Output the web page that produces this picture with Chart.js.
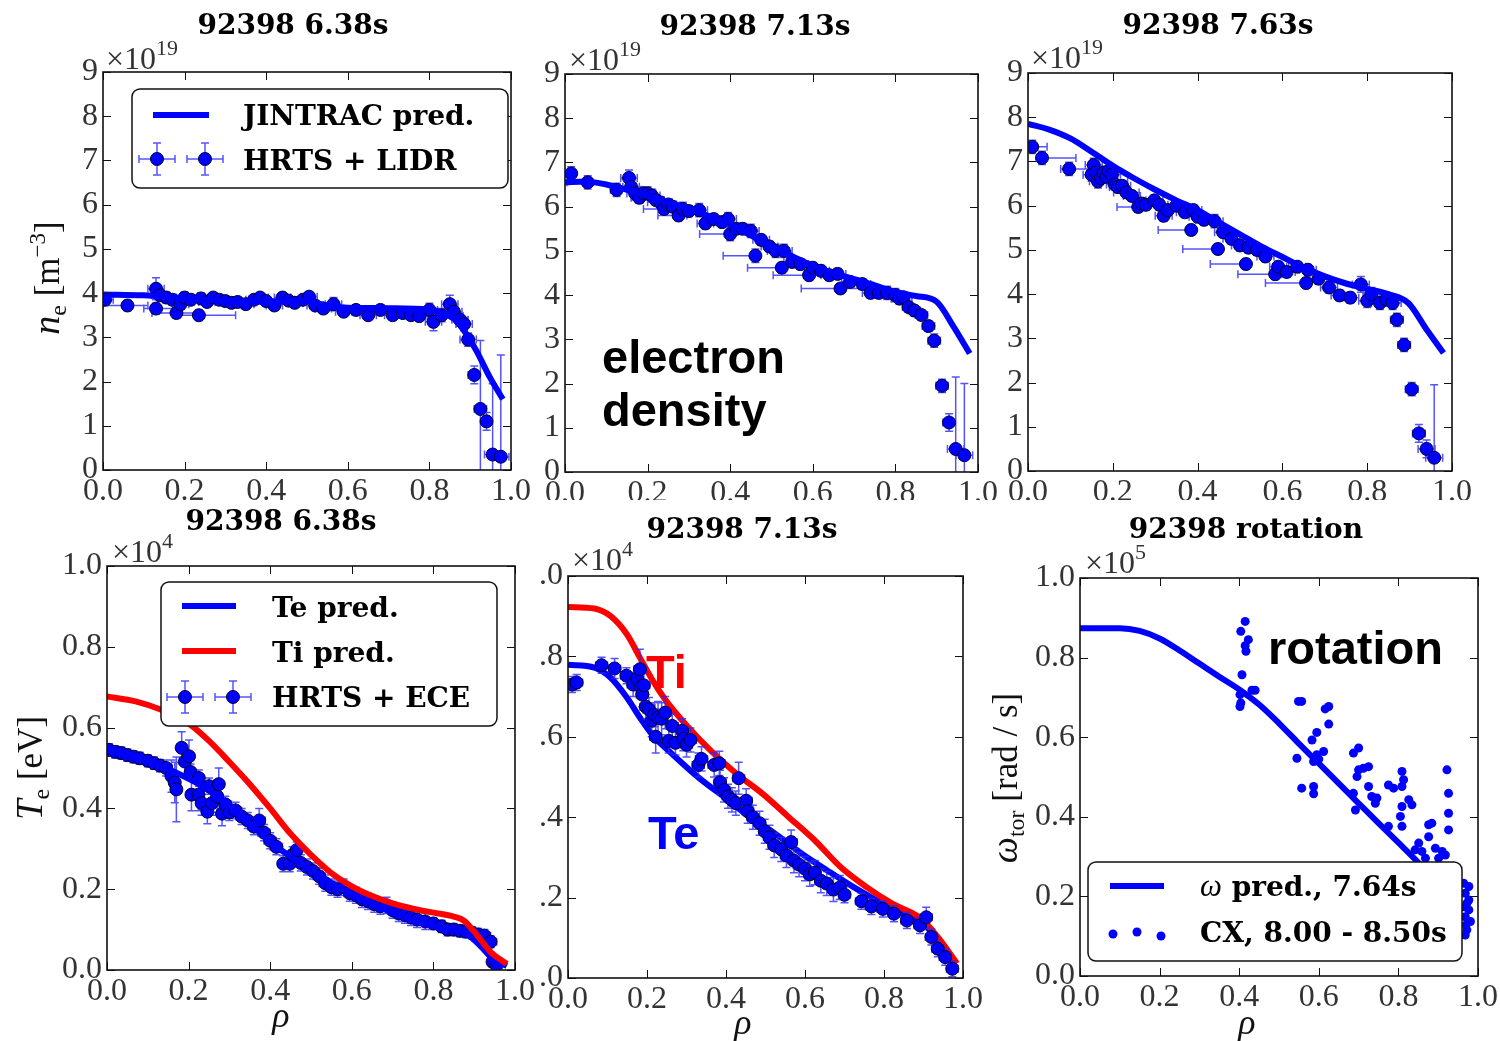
<!DOCTYPE html>
<html>
<head>
<meta charset="utf-8">
<script src="https://cdn.jsdelivr.net/npm/chart.js@4.4.0/dist/chart.umd.min.js"></script>
<style>
  body { margin: 0; background: #fff; width: 1500px; height: 1041px; overflow: hidden; }
  canvas { position: absolute; background: #fff; }
</style>
</head>
<body>
<script>
// rho ticks are made by the scale (step 0.2), y ticks per row below
// prediction curves: [rho, value]
const ne638Pred = [[0,3.97],[0.1,3.95],[0.15,3.92],[0.2,3.88],[0.3,3.83],[0.4,3.81],[0.5,3.82],[0.53,3.76],[0.56,3.7],[0.6,3.67],[0.7,3.66],[0.8,3.63],[0.83,3.56],[0.86,3.42],[0.885,3.15],[0.915,2.7],[0.948,2.1],[0.98,1.6]]
const ne713Pred = [[0,6.55],[0.05,6.57],[0.1,6.5],[0.15,6.38],[0.2,6.25],[0.25,6.1],[0.3,5.95],[0.35,5.78],[0.4,5.6],[0.45,5.35],[0.5,5.1],[0.55,4.88],[0.6,4.66],[0.65,4.5],[0.7,4.36],[0.75,4.22],[0.8,4.07],[0.85,3.98],[0.9,3.85],[0.94,3.3],[0.98,2.68]]
const ne763Pred = [[0,7.85],[0.05,7.72],[0.1,7.52],[0.15,7.22],[0.2,6.9],[0.25,6.62],[0.3,6.36],[0.35,6.12],[0.4,5.9],[0.45,5.62],[0.5,5.35],[0.55,5.08],[0.6,4.84],[0.65,4.6],[0.7,4.4],[0.75,4.24],[0.8,4.12],[0.85,4.0],[0.897,3.8],[0.94,3.2],[0.98,2.67]]
const te638Pred = [[0,0.546],[0.05,0.533],[0.108,0.516],[0.166,0.49],[0.232,0.456],[0.315,0.396],[0.398,0.319],[0.481,0.259],[0.564,0.207],[0.647,0.165],[0.73,0.13],[0.813,0.105],[0.871,0.096],[0.913,0.062],[0.946,0.027],[0.98,0.01]]
const ti638Pred = [[0,0.677],[0.07,0.665],[0.133,0.644],[0.2,0.61],[0.25,0.567],[0.3,0.515],[0.35,0.46],[0.4,0.4],[0.45,0.337],[0.5,0.285],[0.55,0.24],[0.6,0.207],[0.65,0.183],[0.7,0.165],[0.75,0.152],[0.8,0.142],[0.85,0.132],[0.875,0.122],[0.9,0.095],[0.94,0.045],[0.98,0.015]]
const te713Pred = [[0,0.779],[0.067,0.772],[0.108,0.747],[0.149,0.698],[0.182,0.648],[0.215,0.603],[0.264,0.557],[0.33,0.499],[0.395,0.45],[0.461,0.4],[0.526,0.358],[0.592,0.309],[0.657,0.267],[0.723,0.226],[0.789,0.189],[0.854,0.156],[0.895,0.139],[0.936,0.094],[0.977,0.036]]
const ti713Pred = [[0,0.923],[0.067,0.919],[0.108,0.9],[0.149,0.855],[0.182,0.797],[0.215,0.739],[0.248,0.69],[0.297,0.632],[0.362,0.565],[0.428,0.507],[0.493,0.458],[0.559,0.4],[0.625,0.342],[0.69,0.276],[0.756,0.226],[0.821,0.185],[0.895,0.147],[0.936,0.102],[0.985,0.036]]
const omegaPred = [[0,0.874],[0.1,0.874],[0.15,0.867],[0.2,0.848],[0.25,0.818],[0.3,0.785],[0.35,0.752],[0.4,0.72],[0.45,0.682],[0.5,0.635],[0.55,0.584],[0.6,0.534],[0.65,0.484],[0.7,0.434],[0.75,0.384],[0.8,0.335],[0.85,0.285],[0.9,0.23],[0.95,0.17]]

// measurements: [rho, value, rho err left, rho err right, value err]
const ne638Meas = [
  [0.005,3.85,0.02,0.02,0.12],[0.06,3.72,0.06,0.05,0.12],[0.13,4.1,0.02,0.02,0.25],[0.13,3.65,0.03,0.06,0.12],
  [0.14,3.95,0.02,0.02,0.12],[0.155,3.9,0.02,0.02,0.12],[0.17,3.85,0.02,0.02,0.12],[0.18,3.55,0.06,0.05,0.12],
  [0.19,3.75,0.02,0.02,0.12],[0.2,3.9,0.02,0.02,0.12],[0.215,3.85,0.02,0.02,0.12],[0.235,3.5,0.06,0.09,0.12],
  [0.24,3.88,0.02,0.02,0.12],[0.255,3.8,0.02,0.02,0.1],[0.27,3.9,0.02,0.02,0.1],[0.285,3.85,0.02,0.02,0.1],
  [0.3,3.82,0.02,0.02,0.1],[0.315,3.78,0.02,0.02,0.1],[0.33,3.8,0.02,0.02,0.1],[0.35,3.75,0.02,0.02,0.1],
  [0.37,3.85,0.02,0.02,0.1],[0.385,3.9,0.02,0.02,0.1],[0.4,3.82,0.02,0.02,0.1],[0.42,3.72,0.02,0.02,0.1],
  [0.44,3.9,0.02,0.02,0.1],[0.455,3.83,0.02,0.02,0.1],[0.47,3.78,0.02,0.02,0.1],[0.49,3.85,0.02,0.02,0.1],
  [0.505,3.92,0.02,0.02,0.1],[0.52,3.72,0.02,0.02,0.1],[0.54,3.65,0.02,0.02,0.1],[0.565,3.75,0.02,0.02,0.15],
  [0.59,3.58,0.02,0.02,0.1],[0.62,3.62,0.02,0.02,0.1],[0.65,3.5,0.02,0.02,0.1],[0.68,3.62,0.02,0.02,0.1],
  [0.71,3.5,0.02,0.02,0.1],[0.735,3.55,0.02,0.02,0.1],[0.755,3.5,0.02,0.02,0.1],[0.775,3.48,0.02,0.02,0.1],
  [0.8,3.62,0.02,0.02,0.15],[0.81,3.35,0.02,0.02,0.2],[0.83,3.5,0.02,0.02,0.15],[0.85,3.75,0.02,0.02,0.2],
  [0.86,3.58,0.02,0.02,0.15],[0.875,3.4,0.02,0.02,0.15],[0.885,3.3,0.02,0.02,0.15],[0.895,2.95,0.02,0.02,0.15],
  [0.91,2.15,0.015,0.015,0.2],[0.925,1.38,0.015,0.015,1.55],[0.94,1.1,0.015,0.015,0.2],[0.955,0.35,0.02,0.02,1.6],
  [0.975,0.3,0.02,0.02,2.3]
]
const ne713Meas = [
  [0.015,6.75,0.01,0.01,0.15],[0.055,6.55,0.05,0.012,0.15],[0.125,6.38,0.015,0.06,0.15],[0.155,6.65,0.02,0.02,0.18],
  [0.16,6.45,0.02,0.02,0.15],[0.17,6.3,0.02,0.02,0.15],[0.18,6.2,0.02,0.02,0.12],[0.19,6.3,0.02,0.02,0.15],
  [0.2,6.3,0.02,0.02,0.15],[0.21,6.25,0.02,0.02,0.15],[0.22,6.15,0.02,0.02,0.12],[0.23,6.1,0.03,0.03,0.12],
  [0.24,5.95,0.05,0.02,0.12],[0.25,6.05,0.02,0.02,0.12],[0.26,6.0,0.02,0.02,0.12],[0.275,5.8,0.05,0.02,0.12],
  [0.285,5.95,0.02,0.02,0.15],[0.3,5.9,0.02,0.02,0.12],[0.325,5.92,0.02,0.02,0.15],[0.34,5.62,0.02,0.02,0.12],
  [0.36,5.72,0.02,0.02,0.12],[0.38,5.65,0.02,0.02,0.12],[0.395,5.72,0.02,0.02,0.15],[0.4,5.38,0.074,0.006,0.15],
  [0.415,5.5,0.02,0.02,0.12],[0.43,5.5,0.02,0.02,0.12],[0.45,5.45,0.02,0.02,0.15],[0.461,4.89,0.078,0.007,0.15],
  [0.475,5.25,0.02,0.02,0.12],[0.495,5.1,0.02,0.02,0.12],[0.51,5.0,0.02,0.02,0.15],[0.525,4.62,0.083,0.007,0.12],
  [0.53,5.0,0.02,0.02,0.15],[0.55,4.75,0.02,0.02,0.12],[0.57,4.7,0.02,0.02,0.12],[0.591,4.45,0.087,0.005,0.12],
  [0.6,4.62,0.02,0.02,0.12],[0.62,4.55,0.02,0.02,0.12],[0.64,4.45,0.02,0.02,0.12],[0.66,4.48,0.02,0.02,0.12],
  [0.667,4.15,0.095,0.061,0.1],[0.69,4.3,0.02,0.02,0.12],[0.72,4.25,0.02,0.02,0.12],[0.74,4.05,0.02,0.02,0.12],
  [0.76,4.05,0.02,0.02,0.12],[0.78,4.05,0.02,0.02,0.15],[0.8,4.0,0.02,0.02,0.15],[0.81,3.92,0.02,0.02,0.12],
  [0.82,3.95,0.02,0.02,0.12],[0.832,3.73,0.015,0.015,0.12],[0.846,3.65,0.015,0.015,0.12],[0.863,3.55,0.015,0.015,0.12],
  [0.88,3.3,0.015,0.015,0.12],[0.894,2.97,0.015,0.015,0.15],[0.913,1.95,0.015,0.015,0.15],[0.93,1.12,0.015,0.015,0.2],
  [0.946,0.52,0.02,0.02,1.63],[0.967,0.38,0.02,0.02,1.62]
]
const ne763Meas = [
  [0.01,7.33,0.01,0.035,0.15],[0.033,7.08,0.01,0.08,0.15],[0.097,6.83,0.02,0.06,0.15],[0.15,6.7,0.02,0.02,0.15],
  [0.155,6.92,0.02,0.02,0.15],[0.16,6.75,0.02,0.02,0.15],[0.165,6.55,0.02,0.07,0.15],[0.172,6.62,0.02,0.02,0.12],
  [0.178,6.75,0.02,0.02,0.12],[0.185,6.65,0.02,0.02,0.12],[0.19,6.78,0.02,0.02,0.12],[0.198,6.7,0.02,0.02,0.12],
  [0.205,6.48,0.02,0.02,0.12],[0.212,6.42,0.02,0.02,0.12],[0.222,6.45,0.02,0.02,0.12],[0.232,6.3,0.03,0.03,0.12],
  [0.245,6.22,0.02,0.02,0.12],[0.26,5.97,0.05,0.02,0.12],[0.268,6.05,0.02,0.02,0.12],[0.278,6.02,0.02,0.02,0.12],
  [0.298,6.12,0.02,0.02,0.12],[0.31,6.02,0.02,0.02,0.12],[0.32,5.77,0.02,0.02,0.12],[0.33,5.9,0.02,0.02,0.12],
  [0.35,6.0,0.02,0.02,0.12],[0.37,5.85,0.02,0.02,0.12],[0.385,5.45,0.078,0.01,0.12],[0.39,5.9,0.02,0.02,0.12],
  [0.4,5.75,0.02,0.02,0.12],[0.415,5.68,0.02,0.02,0.12],[0.44,5.65,0.02,0.02,0.15],[0.448,5.02,0.083,0.004,0.12],
  [0.46,5.4,0.02,0.02,0.12],[0.48,5.25,0.02,0.02,0.12],[0.5,5.1,0.02,0.02,0.12],[0.514,4.68,0.084,0.006,0.12],
  [0.52,5.05,0.02,0.02,0.12],[0.54,5.0,0.02,0.02,0.12],[0.56,4.85,0.02,0.02,0.12],[0.583,4.45,0.088,0.014,0.12],
  [0.59,4.62,0.02,0.02,0.12],[0.61,4.5,0.02,0.02,0.12],[0.635,4.62,0.02,0.02,0.12],[0.656,4.25,0.096,0.004,0.12],
  [0.66,4.55,0.02,0.02,0.12],[0.685,4.35,0.02,0.02,0.12],[0.71,4.15,0.02,0.02,0.12],[0.735,3.97,0.02,0.02,0.12],
  [0.76,3.92,0.02,0.02,0.12],[0.785,4.22,0.02,0.02,0.18],[0.8,3.85,0.02,0.02,0.15],[0.81,4.0,0.02,0.02,0.15],
  [0.83,3.8,0.02,0.02,0.15],[0.845,3.88,0.02,0.02,0.15],[0.86,3.8,0.02,0.02,0.15],[0.87,3.42,0.015,0.015,0.15],
  [0.887,2.85,0.015,0.015,0.15],[0.905,1.85,0.015,0.015,0.15],[0.922,0.85,0.015,0.015,0.2],[0.94,0.5,0.02,0.02,0.2],
  [0.958,0.3,0.02,0.02,1.65]
]
const te638Meas = [
  [0.005,0.545,0.012,0.012,0.015],[0.02,0.54,0.012,0.012,0.015],[0.035,0.537,0.012,0.012,0.015],[0.05,0.532,0.012,0.012,0.015],
  [0.065,0.528,0.012,0.012,0.015],[0.08,0.524,0.015,0.015,0.015],[0.1,0.518,0.015,0.015,0.015],[0.115,0.512,0.015,0.015,0.015],
  [0.13,0.506,0.015,0.015,0.015],[0.145,0.5,0.015,0.015,0.02],[0.158,0.48,0.01,0.01,0.04],[0.166,0.464,0.01,0.01,0.05],
  [0.17,0.447,0.01,0.01,0.08],[0.183,0.55,0.012,0.012,0.04],[0.191,0.516,0.012,0.012,0.03],[0.201,0.529,0.012,0.012,0.04],
  [0.205,0.49,0.012,0.012,0.02],[0.207,0.434,0.012,0.012,0.04],[0.224,0.434,0.012,0.012,0.04],[0.225,0.475,0.012,0.012,0.02],
  [0.232,0.413,0.012,0.012,0.03],[0.246,0.392,0.012,0.012,0.03],[0.25,0.455,0.012,0.012,0.02],[0.257,0.413,0.012,0.012,0.03],
  [0.27,0.43,0.012,0.012,0.04],[0.274,0.46,0.012,0.012,0.04],[0.282,0.387,0.012,0.012,0.03],[0.29,0.41,0.015,0.015,0.02],
  [0.3,0.39,0.015,0.015,0.02],[0.315,0.395,0.015,0.015,0.02],[0.33,0.38,0.015,0.015,0.02],[0.345,0.37,0.015,0.015,0.02],
  [0.36,0.355,0.015,0.015,0.02],[0.373,0.37,0.015,0.015,0.03],[0.385,0.34,0.015,0.015,0.02],[0.4,0.32,0.015,0.015,0.02],
  [0.415,0.305,0.015,0.015,0.02],[0.432,0.263,0.012,0.012,0.02],[0.448,0.263,0.012,0.012,0.02],[0.455,0.285,0.015,0.015,0.02],
  [0.465,0.297,0.012,0.012,0.02],[0.475,0.265,0.015,0.015,0.02],[0.49,0.255,0.015,0.015,0.02],[0.505,0.245,0.015,0.015,0.02],
  [0.52,0.232,0.015,0.015,0.02],[0.535,0.215,0.015,0.015,0.02],[0.55,0.205,0.015,0.015,0.02],[0.565,0.2,0.015,0.015,0.02],
  [0.58,0.205,0.015,0.015,0.02],[0.595,0.19,0.015,0.015,0.02],[0.61,0.185,0.015,0.015,0.02],[0.625,0.175,0.015,0.015,0.02],
  [0.64,0.17,0.015,0.015,0.02],[0.655,0.163,0.015,0.015,0.02],[0.67,0.158,0.015,0.015,0.02],[0.685,0.16,0.015,0.015,0.02],
  [0.7,0.148,0.015,0.015,0.02],[0.715,0.14,0.015,0.015,0.02],[0.73,0.136,0.015,0.015,0.02],[0.745,0.13,0.015,0.015,0.02],
  [0.76,0.125,0.015,0.015,0.02],[0.78,0.12,0.015,0.015,0.02],[0.8,0.115,0.015,0.015,0.015],[0.82,0.108,0.015,0.015,0.015],
  [0.835,0.1,0.015,0.015,0.015],[0.85,0.1,0.015,0.015,0.015],[0.865,0.097,0.015,0.015,0.015],[0.88,0.095,0.015,0.015,0.015],
  [0.895,0.092,0.015,0.015,0.015],[0.91,0.088,0.015,0.015,0.015],[0.925,0.085,0.015,0.015,0.015],[0.94,0.07,0.015,0.015,0.015],
  [0.945,0.02,0.01,0.01,0.01],[0.955,0.012,0.01,0.01,0.01]
]
const te713Meas = [
  [0.01,0.73,0.015,0.015,0.02],[0.022,0.735,0.015,0.015,0.02],[0.085,0.778,0.015,0.015,0.02],[0.118,0.77,0.015,0.015,0.025],
  [0.148,0.752,0.015,0.015,0.02],[0.165,0.73,0.015,0.015,0.03],[0.175,0.745,0.015,0.015,0.03],[0.182,0.768,0.015,0.015,0.05],
  [0.185,0.725,0.015,0.015,0.03],[0.188,0.705,0.015,0.015,0.03],[0.192,0.728,0.015,0.015,0.03],[0.197,0.675,0.015,0.015,0.03],
  [0.205,0.668,0.015,0.015,0.03],[0.212,0.64,0.015,0.015,0.04],[0.218,0.655,0.015,0.015,0.03],[0.222,0.6,0.015,0.015,0.04],
  [0.228,0.648,0.015,0.015,0.04],[0.237,0.645,0.015,0.015,0.04],[0.246,0.66,0.015,0.015,0.04],[0.255,0.59,0.015,0.015,0.03],
  [0.264,0.627,0.015,0.015,0.03],[0.272,0.585,0.015,0.015,0.03],[0.289,0.615,0.015,0.015,0.03],[0.292,0.595,0.015,0.015,0.03],
  [0.3,0.58,0.015,0.015,0.03],[0.31,0.592,0.015,0.015,0.03],[0.33,0.53,0.015,0.015,0.03],[0.338,0.545,0.015,0.015,0.03],
  [0.37,0.53,0.015,0.015,0.03],[0.383,0.534,0.015,0.015,0.03],[0.385,0.487,0.015,0.015,0.03],[0.395,0.468,0.015,0.015,0.03],
  [0.405,0.452,0.015,0.015,0.03],[0.415,0.443,0.015,0.015,0.03],[0.425,0.435,0.015,0.015,0.03],[0.432,0.497,0.015,0.015,0.04],
  [0.451,0.441,0.015,0.015,0.03],[0.455,0.415,0.015,0.015,0.03],[0.468,0.4,0.015,0.015,0.03],[0.485,0.385,0.015,0.015,0.03],
  [0.498,0.365,0.015,0.015,0.03],[0.51,0.35,0.015,0.015,0.03],[0.522,0.33,0.015,0.015,0.03],[0.54,0.32,0.015,0.015,0.03],
  [0.553,0.305,0.015,0.015,0.03],[0.565,0.338,0.015,0.015,0.03],[0.572,0.292,0.015,0.015,0.03],[0.585,0.282,0.015,0.015,0.03],
  [0.6,0.272,0.015,0.015,0.03],[0.612,0.258,0.015,0.015,0.03],[0.625,0.262,0.015,0.015,0.03],[0.64,0.242,0.015,0.015,0.03],
  [0.655,0.235,0.015,0.015,0.03],[0.672,0.22,0.015,0.015,0.03],[0.688,0.225,0.015,0.015,0.03],[0.7,0.207,0.015,0.015,0.02],
  [0.743,0.191,0.015,0.015,0.02],[0.768,0.178,0.015,0.015,0.02],[0.797,0.172,0.015,0.015,0.02],[0.825,0.16,0.015,0.015,0.02],
  [0.858,0.143,0.015,0.015,0.02],[0.891,0.131,0.015,0.015,0.02],[0.907,0.151,0.015,0.015,0.025],[0.92,0.102,0.015,0.015,0.02],
  [0.936,0.073,0.015,0.015,0.02],[0.955,0.052,0.015,0.015,0.02],[0.973,0.023,0.015,0.015,0.02]
]
// charge exchange rotation points: [rho, omega]
const cxMeas = [
  [0.404,0.866],[0.415,0.891],[0.423,0.845],[0.415,0.83],[0.417,0.816],[0.407,0.757],[0.402,0.707],[0.404,0.686],[0.402,0.677],[0.432,0.718],[0.44,0.718],
  [0.549,0.69],[0.557,0.69],[0.545,0.547],[0.557,0.472],[0.587,0.476],[0.587,0.458],[0.583,0.593],[0.595,0.612],[0.587,0.539],[0.595,0.556],[0.6,0.545],[0.612,0.564],[0.616,0.671],[0.625,0.677],[0.625,0.633],
  [0.687,0.56],[0.7,0.573],[0.696,0.501],[0.7,0.518],[0.712,0.522],[0.725,0.526],[0.692,0.417],[0.687,0.459],[0.725,0.476],[0.733,0.451],[0.742,0.434],[0.746,0.447],
  [0.775,0.48],[0.788,0.472],[0.775,0.376],[0.809,0.514],[0.813,0.493],[0.809,0.476],[0.809,0.426],[0.805,0.401],[0.809,0.376],[0.826,0.443],[0.834,0.43],
  [0.922,0.518],[0.926,0.459],[0.926,0.409],[0.926,0.367],[0.876,0.38],[0.884,0.384],[0.876,0.35],[0.851,0.334],[0.842,0.317],[0.859,0.313],[0.893,0.321],[0.91,0.313],[0.918,0.304],[0.868,0.296],[0.901,0.296],
  [0.964,0.233],[0.968,0.208],[0.972,0.183],[0.977,0.166],[0.968,0.149],[0.981,0.137],[0.972,0.116],[0.968,0.103],[0.977,0.191],[0.964,0.174],[0.977,0.225],[0.97,0.128]
]

const SERIF = '"Liberation Serif", serif'
const TITLE_FONT = 'bold 28px "DejaVu Serif", serif'
const LEGEND_FONT = 'bold 28px "DejaVu Serif", serif'
const NOTE_FONT = 'bold 47px "Liberation Sans", sans-serif'
const TICK_COLOR = '#333'
const ERR_COLOR = 'rgba(40,40,255,0.8)'
const BLUE = '#0000ff'
const RED = '#ff0000'

const decorators = {}

// draw a row of text pieces (text, font, vertical shift)
function runs(ctx, parts, x, y, align) {
  let w = 0
  parts.forEach(p => { ctx.font = p[1]; w += ctx.measureText(p[0]).width })
  let px = align === 'center' ? x - w / 2 : x
  ctx.textAlign = 'left'
  ctx.textBaseline = 'alphabetic'
  parts.forEach(p => {
    ctx.font = p[1]
    ctx.fillText(p[0], px, y + (p[2] || 0))
    px += ctx.measureText(p[0]).width
  })
}

function vertical(ctx, x, y, parts) {
  ctx.save()
  ctx.translate(x, y)
  ctx.rotate(-Math.PI / 2)
  runs(ctx, parts, 0, 0, 'center')
  ctx.restore()
}

function title(ctx, text, x, y) {
  ctx.fillStyle = '#000'
  ctx.font = TITLE_FONT
  ctx.textAlign = 'center'
  ctx.textBaseline = 'alphabetic'
  ctx.fillText(text, x, y)
}

function expo(ctx, x, y, e) {
  ctx.fillStyle = TICK_COLOR
  runs(ctx, [['×10', '32px ' + SERIF, 0], [e, '22px ' + SERIF, -14]], x, y, 'left')
}

function rhoLabel(ctx, x, y) {
  ctx.fillStyle = '#111'
  runs(ctx, [['ρ', 'italic 36px ' + SERIF, 0]], x, y, 'center')
}

function note(ctx, text, x, y, color) {
  ctx.fillStyle = color
  ctx.font = NOTE_FONT
  ctx.textAlign = 'left'
  ctx.textBaseline = 'alphabetic'
  ctx.fillText(text, x, y)
}

function legendBox(ctx, x, y, w, h) {
  ctx.beginPath()
  ctx.roundRect(x, y, w, h, 8)
  ctx.fillStyle = '#fff'
  ctx.fill()
  ctx.strokeStyle = '#111'
  ctx.lineWidth = 1.5
  ctx.stroke()
}

function legendLine(ctx, x0, x1, y, color) {
  ctx.beginPath()
  ctx.moveTo(x0, y)
  ctx.lineTo(x1, y)
  ctx.strokeStyle = color
  ctx.lineWidth = 6
  ctx.stroke()
}

function legendText(ctx, parts, x, y) {
  ctx.fillStyle = '#000'
  runs(ctx, parts, x, y, 'left')
}

function dot(ctx, x, y, r, edge) {
  ctx.beginPath()
  ctx.arc(x, y, r, 0, Math.PI * 2)
  ctx.fillStyle = BLUE
  ctx.fill()
  if (edge) {
    ctx.strokeStyle = '#000033'
    ctx.lineWidth = 1
    ctx.stroke()
  }
}

function errMarker(ctx, x, y) {
  ctx.beginPath()
  ctx.moveTo(x - 18, y); ctx.lineTo(x + 18, y)
  ctx.moveTo(x - 18, y - 4); ctx.lineTo(x - 18, y + 4)
  ctx.moveTo(x + 18, y - 4); ctx.lineTo(x + 18, y + 4)
  ctx.moveTo(x, y - 16); ctx.lineTo(x, y + 16)
  ctx.moveTo(x - 4, y - 16); ctx.lineTo(x + 4, y - 16)
  ctx.moveTo(x - 4, y + 16); ctx.lineTo(x + 4, y + 16)
  ctx.strokeStyle = ERR_COLOR
  ctx.lineWidth = 1.5
  ctx.stroke()
  dot(ctx, x, y, 6.5, true)
}

// error bars under each measured dataset
const errorBars = {
  id: 'errorBars',
  beforeDatasetDraw(chart, args) {
    const ds = chart.data.datasets[args.index]
    if (!ds.errors) return
    const { ctx, chartArea: a, scales: { x, y } } = chart
    ctx.save()
    ctx.beginPath()
    ctx.rect(a.left, a.top, a.right - a.left, a.bottom - a.top)
    ctx.clip()
    ctx.strokeStyle = ERR_COLOR
    ctx.lineWidth = 1.5
    ctx.beginPath()
    ds.errors.forEach(r => {
      const px = x.getPixelForValue(r[0])
      const py = y.getPixelForValue(r[1])
      const x0 = x.getPixelForValue(r[0] - r[2])
      const x1 = x.getPixelForValue(r[0] + r[3])
      const y0 = y.getPixelForValue(r[1] - r[4])
      const y1 = y.getPixelForValue(r[1] + r[4])
      ctx.moveTo(x0, py); ctx.lineTo(x1, py)
      ctx.moveTo(x0, py - 4); ctx.lineTo(x0, py + 4)
      ctx.moveTo(x1, py - 4); ctx.lineTo(x1, py + 4)
      ctx.moveTo(px, y0); ctx.lineTo(px, y1)
      ctx.moveTo(px - 4, y0); ctx.lineTo(px + 4, y0)
      ctx.moveTo(px - 4, y1); ctx.lineTo(px + 4, y1)
    })
    ctx.stroke()
    ctx.restore()
  }
}

// box with inward ticks on all four sides
const frame = {
  id: 'frame',
  afterDatasetsDraw(chart) {
    const { ctx, chartArea: a, scales: { x, y } } = chart
    ctx.save()
    ctx.strokeStyle = '#111'
    ctx.lineWidth = 1
    ctx.beginPath()
    x.ticks.forEach(t => {
      const px = Math.round(x.getPixelForValue(t.value)) + 0.5
      ctx.moveTo(px, a.bottom); ctx.lineTo(px, a.bottom - 8)
      ctx.moveTo(px, a.top); ctx.lineTo(px, a.top + 8)
    })
    y.ticks.forEach(t => {
      const py = Math.round(y.getPixelForValue(t.value)) + 0.5
      ctx.moveTo(a.left, py); ctx.lineTo(a.left + 8, py)
      ctx.moveTo(a.right, py); ctx.lineTo(a.right - 8, py)
    })
    ctx.stroke()
    ctx.lineWidth = 1.6
    ctx.strokeRect(a.left, a.top, a.right - a.left, a.bottom - a.top)
    ctx.restore()
  }
}

const decor = {
  id: 'decor',
  afterDraw(chart) {
    const d = decorators[chart.canvas.id]
    if (!d) return
    const ctx = chart.ctx
    ctx.save()
    ctx.translate(-d.cx, -d.cy)
    d.decorate(ctx)
    ctx.restore()
  }
}

function predLine(rows, color, order) {
  return {
    type: 'line',
    data: rows.map(r => ({ x: r[0], y: r[1] })),
    borderColor: color,
    borderWidth: 6,
    pointRadius: 0,
    fill: false,
    cubicInterpolationMode: 'monotone',
    borderJoinStyle: 'round',
    order: order,
    clip: 0
  }
}

function measured(rows, order) {
  return {
    type: 'scatter',
    data: rows.map(r => ({ x: r[0], y: r[1] })),
    errors: rows,
    pointRadius: 6.5,
    pointBackgroundColor: BLUE,
    pointBorderColor: '#000033',
    pointBorderWidth: 1,
    order: order,
    clip: 0
  }
}

function cxDots(rows, order) {
  return {
    type: 'scatter',
    data: rows.map(r => ({ x: r[0], y: r[1] })),
    pointRadius: 4.5,
    pointBackgroundColor: BLUE,
    pointBorderWidth: 0,
    order: order,
    clip: 0
  }
}

const topAxis = { max: 9, step: 1, digits: 0 }
const lowAxis = { max: 1, step: 0.2, digits: 1 }

function makePanel(id, box, area, yAxis, datasets, decorate) {
  const [cx, cy, cw, ch] = box
  const [L, T, R, B] = area
  const canvas = document.createElement('canvas')
  canvas.id = id
  canvas.width = cw
  canvas.height = ch
  canvas.style.left = cx + 'px'
  canvas.style.top = cy + 'px'
  document.body.appendChild(canvas)
  decorators[id] = { cx, cy, decorate }
  const tickFont = { family: 'Liberation Serif', size: 32 }
  return new Chart(canvas, {
    type: 'scatter',
    data: { datasets },
    options: {
      responsive: false,
      animation: false,
      devicePixelRatio: 1,
      events: [],
      layout: { autoPadding: false, padding: { left: 0, top: T - cy, right: cx + cw - R, bottom: 0 } },
      plugins: { legend: { display: false }, tooltip: { enabled: false } },
      scales: {
        x: {
          type: 'linear', min: 0, max: 1,
          grid: { display: false, drawTicks: false },
          border: { display: false },
          ticks: { stepSize: 0.2, autoSkip: false, maxRotation: 0, padding: 2, font: tickFont, color: TICK_COLOR, callback: v => v.toFixed(1) },
          afterFit: s => { s.height = cy + ch - B }
        },
        y: {
          type: 'linear', min: 0, max: yAxis.max,
          grid: { display: false, drawTicks: false },
          border: { display: false },
          ticks: { stepSize: yAxis.step, autoSkip: false, padding: 5, font: tickFont, color: TICK_COLOR, callback: v => v.toFixed(yAxis.digits) },
          afterFit: s => { s.width = L - cx }
        }
      }
    },
    plugins: [errorBars, frame, decor]
  })
}

// top row: electron density
makePanel('ne638', [0, 0, 533, 500], [103, 72, 526, 470], topAxis,
  [predLine(ne638Pred, BLUE, 0), measured(ne638Meas, 1)],
  ctx => {
    title(ctx, '92398 6.38s', 293, 34)
    expo(ctx, 106, 69, '19')
    ctx.fillStyle = '#111'
    vertical(ctx, 59, 278, [['n', 'italic 38px ' + SERIF, 0], ['e', '24px ' + SERIF, 7], [' [m', '35px ' + SERIF, 0], ['−3', '23px ' + SERIF, -14], [']', '35px ' + SERIF, 0]])
    legendBox(ctx, 132, 89, 376, 99)
    legendLine(ctx, 153, 209, 115, BLUE)
    errMarker(ctx, 157, 159)
    errMarker(ctx, 205, 159)
    legendText(ctx, [['JINTRAC pred.', LEGEND_FONT, 0]], 243, 125)
    legendText(ctx, [['HRTS + LIDR', LEGEND_FONT, 0]], 243, 170)
  })

makePanel('ne713', [533, 0, 467, 500], [565, 74, 988, 472], topAxis,
  [predLine(ne713Pred, BLUE, 0), measured(ne713Meas, 1)],
  ctx => {
    title(ctx, '92398 7.13s', 755, 35)
    expo(ctx, 569, 70, '19')
    note(ctx, 'electron', 602, 373, '#000')
    note(ctx, 'density', 602, 426, '#000')
  })

makePanel('ne763', [1000, 0, 500, 500], [1028, 73, 1452, 471], topAxis,
  [predLine(ne763Pred, BLUE, 0), measured(ne763Meas, 1)],
  ctx => {
    title(ctx, '92398 7.63s', 1218, 34)
    expo(ctx, 1031, 68, '19')
  })

// bottom row: temperatures and rotation
makePanel('te638', [0, 500, 540, 541], [107, 566, 515, 970], lowAxis,
  [predLine(ti638Pred, RED, 0), predLine(te638Pred, BLUE, 1), measured(te638Meas, 2)],
  ctx => {
    title(ctx, '92398 6.38s', 281, 530)
    expo(ctx, 112, 562, '4')
    rhoLabel(ctx, 281, 1027)
    ctx.fillStyle = '#111'
    vertical(ctx, 42, 768, [['T', 'italic 37px ' + SERIF, 0], ['e', '24px ' + SERIF, 7], [' [eV]', '35px ' + SERIF, 0]])
    legendBox(ctx, 161, 582, 336, 144)
    legendLine(ctx, 182, 236, 606, BLUE)
    legendLine(ctx, 182, 236, 651, RED)
    errMarker(ctx, 185, 697)
    errMarker(ctx, 233, 697)
    legendText(ctx, [['Te pred.', LEGEND_FONT, 0]], 272, 617)
    legendText(ctx, [['Ti pred.', LEGEND_FONT, 0]], 272, 662)
    legendText(ctx, [['HRTS + ECE', LEGEND_FONT, 0]], 272, 707)
  })

makePanel('te713', [540, 500, 445, 541], [568, 576, 976, 978], lowAxis,
  [measured(te713Meas, 0), predLine(ti713Pred, RED, 1), predLine(te713Pred, BLUE, 2)],
  ctx => {
    title(ctx, '92398 7.13s', 742, 538)
    expo(ctx, 572, 570, '4')
    rhoLabel(ctx, 743, 1034)
    note(ctx, 'Ti', 646, 688, RED)
    note(ctx, 'Te', 648, 849, BLUE)
  })

makePanel('omega', [985, 500, 515, 541], [1080, 578, 1479, 976], lowAxis,
  [cxDots(cxMeas, 0), predLine(omegaPred, BLUE, 1)],
  ctx => {
    title(ctx, '92398 rotation', 1246, 538)
    expo(ctx, 1085, 573, '5')
    rhoLabel(ctx, 1247, 1034)
    ctx.fillStyle = '#111'
    vertical(ctx, 1017, 778, [['ω', 'italic 37px ' + SERIF, 0], ['tor', '24px ' + SERIF, 7], [' [rad / s]', '35px ' + SERIF, 0]])
    note(ctx, 'rotation', 1268, 664, '#000')
    legendBox(ctx, 1088, 862, 374, 99)
    legendLine(ctx, 1110, 1164, 886, BLUE)
    dot(ctx, 1113, 934, 4.5, false)
    dot(ctx, 1137, 932, 4.5, false)
    dot(ctx, 1161, 936, 4.5, false)
    legendText(ctx, [['ω', 'italic 31px ' + SERIF, 0], [' pred., 7.64s', LEGEND_FONT, 0]], 1200, 896)
    legendText(ctx, [['CX, 8.00 - 8.50s', LEGEND_FONT, 0]], 1200, 942)
  })
</script>
</body>
</html>
